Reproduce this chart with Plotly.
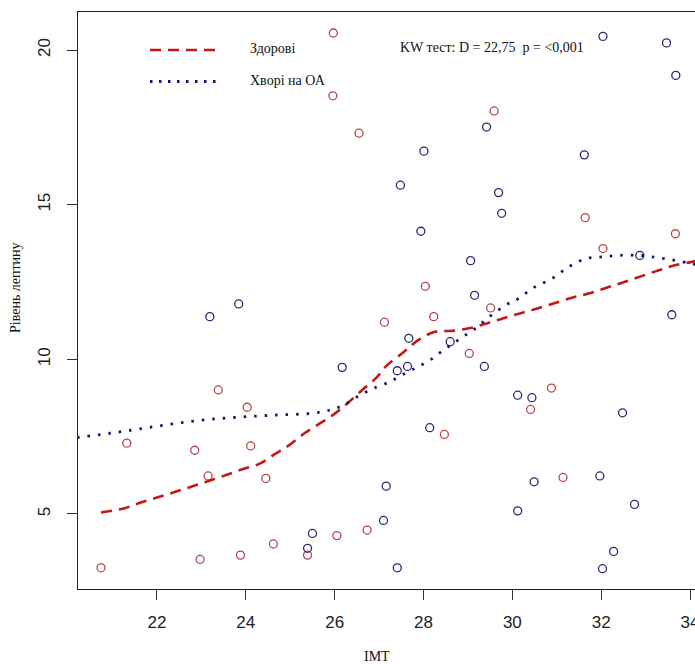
import plotly.graph_objects as go

# ---- data ----
healthy_bmi = [25.97, 25.96, 26.55, 27.12, 23.38, 24.03, 21.32, 22.85, 24.11, 23.15,
               24.45, 26.73, 26.05, 24.62, 25.39, 23.88, 22.97, 20.74, 29.59, 31.64,
               33.67, 32.04, 28.04, 29.51, 28.23, 29.03, 30.88, 30.41, 28.47, 31.14]
healthy_leptin = [20.55, 18.52, 17.31, 11.20, 9.01, 8.45, 7.29, 7.06, 7.20, 6.23,
                  6.15, 4.48, 4.30, 4.03, 3.67, 3.67, 3.53, 3.26, 18.03, 14.58,
                  14.06, 13.58, 12.36, 11.66, 11.38, 10.19, 9.07, 8.38, 7.57, 6.18]

oa_bmi = [23.84, 23.19, 26.17, 27.16, 27.10, 25.50, 25.39, 32.04, 33.47, 33.68,
          29.42, 28.01, 31.62, 27.48, 29.69, 29.76, 27.94, 32.87, 29.06, 29.15,
          33.59, 27.67, 28.60, 29.37, 27.41, 27.64, 30.12, 30.44, 32.48, 28.14,
          30.49, 31.97, 32.75, 30.12, 32.28, 32.03, 27.41]
oa_leptin = [11.79, 11.38, 9.74, 5.90, 4.79, 4.37, 3.89, 20.44, 20.23, 19.18,
             17.51, 16.73, 16.61, 15.63, 15.39, 14.72, 14.14, 13.36, 13.19, 12.07,
             11.44, 10.68, 10.57, 9.77, 9.63, 9.77, 8.84, 8.76, 8.27, 7.79,
             6.04, 6.23, 5.31, 5.10, 3.79, 3.23, 3.26]

healthy_curve_x = [20.74, 21.25, 21.62, 22.00, 22.38, 22.77, 23.15, 23.52, 23.91, 24.30,
                   24.66, 25.00, 25.32, 25.65, 25.98, 26.29, 26.62, 26.93, 27.16, 27.57,
                   27.88, 28.26, 28.63, 29.05, 29.42, 29.80, 30.19, 30.58, 30.98, 31.36,
                   31.76, 32.15, 32.52, 32.91, 33.30, 33.66, 34.04, 34.20]
healthy_curve_y = [5.05, 5.18, 5.36, 5.53, 5.70, 5.88, 6.06, 6.24, 6.44, 6.62,
                   6.94, 7.25, 7.61, 7.91, 8.22, 8.58, 9.01, 9.39, 9.78, 10.25,
                   10.62, 10.89, 10.92, 11.01, 11.16, 11.33, 11.49, 11.65, 11.83, 12.00,
                   12.14, 12.33, 12.50, 12.69, 12.88, 13.04, 13.15, 13.20]

oa_curve_x = [20.20, 20.95, 21.70, 22.45, 23.20, 23.95, 24.70, 25.45, 25.90, 26.20,
              26.58, 26.95, 27.25, 27.47, 27.81, 28.15, 28.48, 28.86, 29.20, 29.53,
              29.92, 30.13, 30.47, 30.89, 31.26, 31.64, 32.01, 32.38, 32.87, 33.29,
              33.66, 34.04, 34.20]
oa_curve_y = [7.47, 7.61, 7.77, 7.93, 8.06, 8.14, 8.20, 8.25, 8.36, 8.52,
              8.85, 9.11, 9.28, 9.46, 9.71, 9.98, 10.33, 10.70, 11.04, 11.43,
              11.81, 11.96, 12.31, 12.61, 12.98, 13.25, 13.31, 13.36, 13.36, 13.28,
              13.20, 13.09, 13.05]

x_ticks = [22, 24, 26, 28, 30, 32, 34]
y_ticks = [5, 10, 15, 20]

series_names = ["Здорові", "Хворі на ОА"]
kw_text = "KW тест: D = 22,75\u00a0\u00a0p = <0,001"
x_title = "IMT"
y_title = "Рівень лептину"

# ---- styles ----
RED_PT = "#b54848"
BLUE_PT = "#2a2a6e"
RED_LINE = "#c41818"
BLUE_LINE = "#14146e"
SERIF = "Liberation Serif, Times New Roman, serif"
SANS = "Liberation Sans, Arial, sans-serif"

fig = go.Figure()
fig.add_trace(go.Scatter(x=healthy_bmi, y=healthy_leptin, mode="markers", name=series_names[0],
                         marker=dict(symbol="circle-open", size=8, color=RED_PT, line=dict(width=1.3)),
                         showlegend=False))
fig.add_trace(go.Scatter(x=oa_bmi, y=oa_leptin, mode="markers", name=series_names[1],
                         marker=dict(symbol="circle-open", size=8, color=BLUE_PT, line=dict(width=1.3)),
                         showlegend=False))
fig.add_trace(go.Scatter(x=healthy_curve_x, y=healthy_curve_y, mode="lines", name=series_names[0],
                         line=dict(color=RED_LINE, width=2.6, dash="11px,7px", shape="spline"),
                         showlegend=False))
fig.add_trace(go.Scatter(x=oa_curve_x, y=oa_curve_y, mode="lines", name=series_names[1],
                         line=dict(color=BLUE_LINE, width=2.8, dash="2.5px,8px", shape="spline"),
                         showlegend=False))

# plot area in pixels: x 78..695, y 12..589
L, T, W, H = 78, 12, 617, 577
def px(xp):
    return (xp - L) / W
def py(yp):
    return (T + H - yp) / H

# legend drawn as shapes + text
fig.add_shape(type="line", xref="paper", yref="paper", x0=px(150), x1=px(221), y0=py(50), y1=py(50),
              line=dict(color=RED_LINE, width=2.6, dash="11px,7px"))
fig.add_shape(type="line", xref="paper", yref="paper", x0=px(150), x1=px(221), y0=py(81.5), y1=py(81.5),
              line=dict(color=BLUE_LINE, width=2.8, dash="2.5px,6.5px"))
fig.add_annotation(xref="paper", yref="paper", x=px(248), y=py(48.5), text=series_names[0],
                   showarrow=False, xanchor="left", yanchor="middle",
                   font=dict(family=SERIF, size=14, color="#111"))
fig.add_annotation(xref="paper", yref="paper", x=px(248), y=py(80.5), text=series_names[1],
                   showarrow=False, xanchor="left", yanchor="middle",
                   font=dict(family=SERIF, size=14, color="#111"))
fig.add_annotation(xref="paper", yref="paper", x=px(398), y=py(47), text=kw_text,
                   showarrow=False, xanchor="left", yanchor="middle",
                   font=dict(family=SERIF, size=14, color="#111"))
fig.add_annotation(xref="paper", yref="paper", x=px(377), y=py(656), text=x_title,
                   showarrow=False, xanchor="center", yanchor="middle",
                   font=dict(family=SERIF, size=14, color="#111"))
fig.add_annotation(xref="paper", yref="paper", x=px(15), y=py(288), text=y_title,
                   showarrow=False, xanchor="center", yanchor="middle", textangle=-90,
                   font=dict(family=SERIF, size=14, color="#111"))

fig.update_layout(
    width=695, height=664,
    margin=dict(l=L, r=0, t=T, b=664 - T - H, pad=0),
    paper_bgcolor="white", plot_bgcolor="white",
    showlegend=False,
    xaxis=dict(range=[20.222, 34.112], tickvals=x_ticks, ticktext=[str(v) for v in x_ticks],
               showgrid=False, zeroline=False, showline=True, mirror=True,
               linecolor="#222", linewidth=1.2, ticks="outside", ticklen=10, tickwidth=1,
               tickcolor="#333", tickfont=dict(family=SANS, size=17, color="#222"),
               ticklabelstandoff=7, ticklabeloverflow="allow", automargin=False),
    yaxis=dict(range=[2.574, 21.229], tickvals=y_ticks, ticktext=[str(v) for v in y_ticks],
               showgrid=False, zeroline=False, showline=True, mirror=False,
               linecolor="#222", linewidth=1.2, ticks="outside", ticklen=10, tickwidth=1,
               tickcolor="#333", tickangle=-90, tickfont=dict(family=SANS, size=17, color="#222"),
               ticklabelstandoff=10, automargin=False),
)

fig.write_html("out.html", config={"displayModeBar": False},
               post_script="document.body.style.margin='0';document.body.style.overflow='hidden';")
